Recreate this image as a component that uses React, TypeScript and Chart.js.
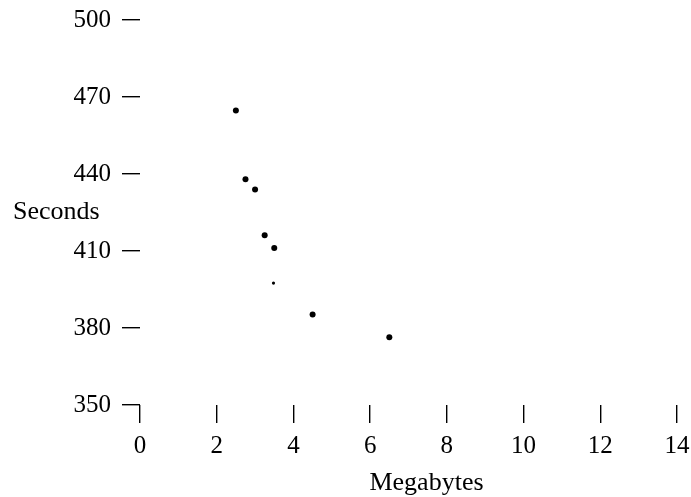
import React, { useEffect, useRef } from "react";
import { Chart, registerables } from "chart.js";

Chart.register(...registerables);

const megabytes = [2.5, 2.75, 3.0, 3.25, 3.5, 3.48, 4.5, 6.5];
const seconds = [464.7, 438.0, 434.0, 416.1, 411.2, 397.5, 385.3, 376.4];
const pointSizes = [3, 3, 3, 3, 3, 1.6, 3, 3];
const xTicks = [0, 2, 4, 6, 8, 10, 12, 14];
const yTicks = [350, 380, 410, 440, 470, 500];
const xTitle = "Megabytes";
const yTitle = "Seconds";

const FONT = "'Liberation Serif', 'Times New Roman', serif";

const titlesPlugin = {
  id: "freeTitles",
  afterDraw(chart: any) {
    const { ctx, chartArea } = chart;
    ctx.save();
    ctx.fillStyle = "#000";
    ctx.font = `26px ${FONT}`;
    ctx.textBaseline = "middle";
    ctx.textAlign = "left";
    ctx.fillText(yTitle, 13, (chartArea.top + chartArea.bottom) / 2);
    ctx.textAlign = "center";
    ctx.fillText(xTitle, (chartArea.left + chartArea.right) / 2 + 18, chartArea.bottom + 78);
    ctx.restore();
  },
};

export default function App() {
  const ref = useRef<HTMLCanvasElement>(null);
  useEffect(() => {
    if (!ref.current) return;
    const chart = new Chart(ref.current, {
      type: "scatter",
      data: {
        datasets: [
          {
            data: megabytes.map((x, i) => ({ x, y: seconds[i] })),
            pointRadius: pointSizes,
            pointBackgroundColor: "#000",
            pointBorderColor: "#000",
            pointBorderWidth: 0,
          },
        ],
      },
      options: {
        animation: false,
        responsive: false,
        layout: { padding: { top: 20, right: 14, left: 0, bottom: 0 } },
        plugins: { legend: { display: false }, tooltip: { enabled: false } },
        scales: {
          x: {
            type: "linear",
            min: 0,
            max: 14,
            afterBuildTicks: (s: any) => {
              s.ticks = xTicks.map((v) => ({ value: v }));
            },
            afterFit: (s: any) => {
              s.height = 92;
              s.paddingLeft = 0;
              s.paddingRight = 0;
            },
            border: { display: false },
            grid: {
              drawOnChartArea: false,
              drawTicks: true,
              tickLength: 18,
              color: "#000",
              lineWidth: 1.4,
            },
            ticks: {
              color: "#000",
              font: { family: FONT, size: 25 },
              padding: 8,
              maxRotation: 0,
            },
          },
          y: {
            type: "linear",
            min: 350,
            max: 500,
            afterBuildTicks: (s: any) => {
              s.ticks = yTicks.map((v) => ({ value: v }));
            },
            afterFit: (s: any) => {
              s.width = 140;
              s.paddingTop = 0;
              s.paddingBottom = 0;
            },
            border: { display: false },
            grid: {
              drawOnChartArea: false,
              drawTicks: true,
              tickLength: 18,
              color: "#000",
              lineWidth: 1.4,
            },
            ticks: {
              color: "#000",
              font: { family: FONT, size: 25, lineHeight: 1 },
              padding: 11,
            },
          },
        },
      },
      plugins: [titlesPlugin],
    });
    return () => chart.destroy();
  }, []);
  return (
    <div style={{ position: "fixed", left: 0, top: 0, width: 691, height: 497, background: "#fff" }}>
      <canvas ref={ref} width={691} height={497} style={{ display: "block" }} />
    </div>
  );
}
